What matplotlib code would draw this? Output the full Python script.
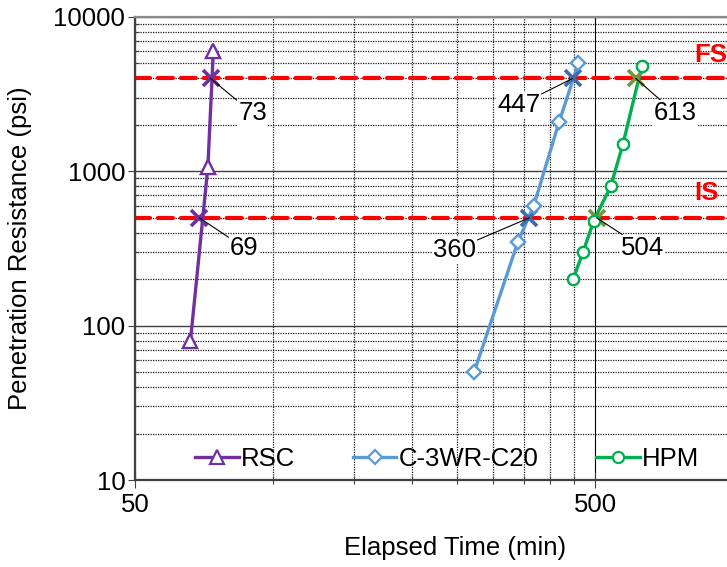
import numpy as np
import matplotlib
matplotlib.use("Agg")
import matplotlib.pyplot as plt
import matplotlib.transforms as mtransforms
from matplotlib.ticker import FixedLocator, NullFormatter, FixedFormatter

plt.rcParams['font.family'] = ['Liberation Sans', 'DejaVu Sans']

# penetration resistance readings (time in min, resistance in psi)
rsc_t = [66, 72, 74]
rsc_p = [80, 1060, 6000]
c3_t = [273, 340, 368, 418, 460]
c3_p = [50, 350, 600, 2100, 5000]
hpm_t = [448, 471, 497, 541, 575, 632]
hpm_p = [200, 300, 480, 800, 1500, 4800]

# initial / final set thresholds and interpolated set times
IS = 500
FS = 4000
rsc_set = [69, 73]
c3_set = [360, 447]
hpm_set = [504, 613]

x_major = [50, 500]
x_minor = [100, 150, 200, 250, 300, 350, 400, 450, 1000]
y_major = [10, 100, 1000, 10000]

FS_TXT = 18.5

fig = plt.figure(figsize=(7.27, 5.67), dpi=100)
W, H = 727, 567
ax = fig.add_axes([135 / W, (H - 480) / H, 640 / W, 463 / H])
ax.set_xscale('log')
ax.set_yscale('log')
ax.set_xlim(50, 50 * 10 ** (640 / 460))
ax.set_ylim(10, 10000)

# ticks and grid
ax.xaxis.set_major_locator(FixedLocator(x_major))
ax.xaxis.set_major_formatter(FixedFormatter([str(v) for v in x_major]))
ax.xaxis.set_minor_locator(FixedLocator(x_minor))
ax.xaxis.set_minor_formatter(NullFormatter())
ax.yaxis.set_major_locator(FixedLocator(y_major))
ax.yaxis.set_major_formatter(FixedFormatter([str(v) for v in y_major]))
ymin = [m * 10 ** d for d in range(1, 4) for m in range(2, 10)]
ax.yaxis.set_minor_locator(FixedLocator(ymin))
ax.yaxis.set_minor_formatter(NullFormatter())

ax.grid(which='major', axis='y', color='#404040', lw=1.0, ls='-')
ax.grid(which='major', axis='x', color='black', lw=0.8, ls='-')
ax.grid(which='minor', axis='both', color='#1a1a1a', lw=0.9, ls=(0, (1, 1)))
ax.set_axisbelow(True)

for s in ['left', 'bottom']:
    ax.spines[s].set_color('#404040')
    ax.spines[s].set_linewidth(1.6)
ax.spines['top'].set_color('#8c8c8c')
ax.spines['top'].set_linewidth(1.6)
ax.spines['right'].set_visible(False)

ax.tick_params(axis='x', which='major', direction='inout', length=11, width=0.8,
               labelsize=FS_TXT, pad=4, color='#404040')
ax.tick_params(axis='x', which='minor', direction='inout', length=6, width=0.8, color='#404040')
ax.tick_params(axis='y', which='major', direction='out', length=5, width=0.8,
               labelsize=FS_TXT, pad=2, color='#404040')
ax.tick_params(axis='y', which='minor', direction='in', length=3, width=0.8, color='#404040')

# threshold lines
for yv in [IS, FS]:
    ax.axhline(yv, color='#FF0000', lw=3, ls=(0, (3.6, 1.9)),
               dash_capstyle='round', zorder=2)

blend = mtransforms.blended_transform_factory(ax.transAxes, ax.transData)
xl = (694 - 135) / 640
ax.annotate('FS', xy=(xl, FS), xycoords=blend, xytext=(0, 23), textcoords='offset pixels',
            ha='left', va='center', color='#FF0000', fontsize=FS_TXT, fontweight='bold')
ax.annotate('IS', xy=(xl, IS), xycoords=blend, xytext=(0, 25), textcoords='offset pixels',
            ha='left', va='center', color='#FF0000', fontsize=FS_TXT, fontweight='bold')

series = [
    ('RSC', rsc_t, rsc_p, '#7030A0', '^', 10, rsc_set, '#7030A0'),
    ('C-3WR-C20', c3_t, c3_p, '#5B9BD5', 'D', 7, c3_set, '#3A6DB0'),
    ('HPM', hpm_t, hpm_p, '#00B050', 'o', 8, hpm_set, '#77933C'),
]

for name, t, p, col, mk, ms, sets, xcol in series:
    ax.plot(t, p, color=col, lw=2.4, marker=mk, ms=ms, mfc='white', mec=col,
            mew=1.6, label=name, zorder=4)
    ax.plot(sets, [IS, FS], ls='none', marker='x', ms=12, mew=2.6, color=xcol, zorder=5)
    ax.plot(t, p, ls='none', marker=mk, ms=ms, mfc='white', mec=col, mew=1.6, zorder=6)

# labels for set times, offsets in pixels
label_offsets = [(45, -30), (42, -35), (-75, -32), (-54, -27), (46, -30), (40, -35)]
k = 0
for name, t, p, col, mk, ms, sets, xcol in series:
    for sv, yv in zip(sets, [IS, FS]):
        ax.annotate(str(sv), xy=(sv, yv), xytext=label_offsets[k], textcoords='offset pixels',
                    ha='center', va='center', fontsize=FS_TXT, zorder=7,
                    bbox=dict(boxstyle='square,pad=0.05', fc='white', ec='none'),
                    arrowprops=dict(arrowstyle='-', color='black', lw=0.8, shrinkA=0, shrinkB=0))
        k += 1

leg = ax.legend(loc='center', bbox_to_anchor=(447 / W, 1 - 459 / H),
                bbox_transform=fig.transFigure, ncol=3, frameon=False, fontsize=FS_TXT,
                handlelength=1.7, handletextpad=0.08, columnspacing=2.25)

ax.set_xlabel('Elapsed Time (min)', fontsize=FS_TXT, va='center')
ax.xaxis.set_label_coords((455 - 135) / 640, -(548 - 480) / 463)
ax.set_ylabel('Penetration Resistance (psi)', fontsize=FS_TXT, va='center')
ax.yaxis.set_label_coords((20 - 135) / 640, 0.5)

fig.savefig('out.png', dpi=100)
